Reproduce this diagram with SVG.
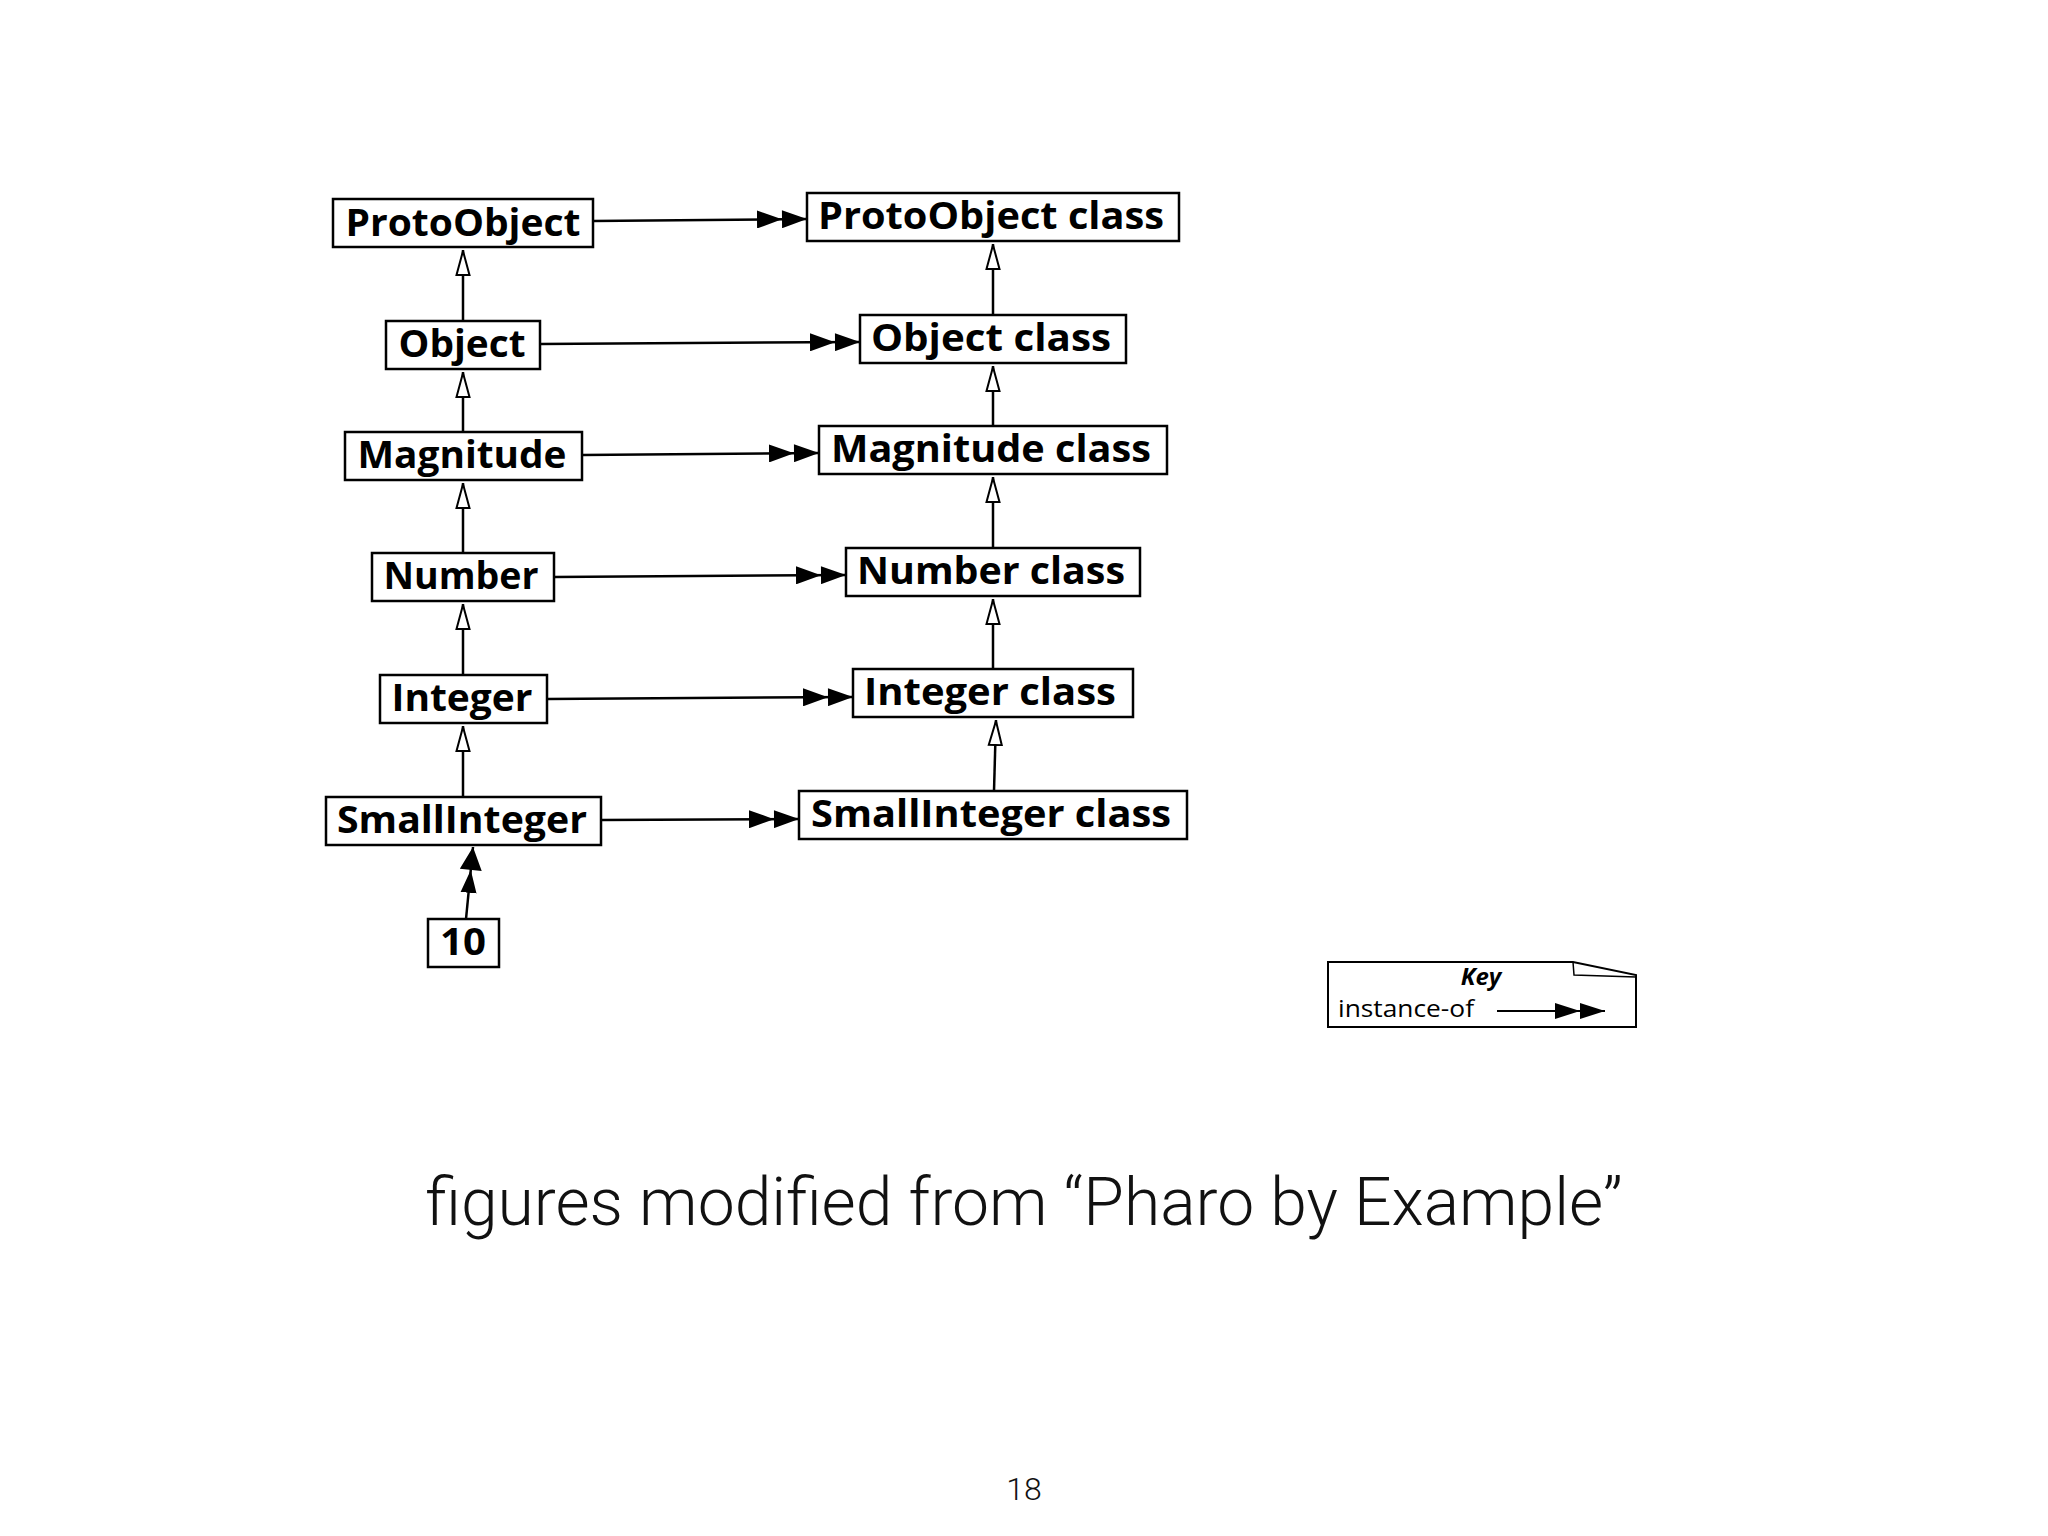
<svg xmlns="http://www.w3.org/2000/svg" width="2048" height="1536" viewBox="0 0 2048 1536">
<style>
.box{fill:#fff;stroke:#000;stroke-width:2.5}
.lbl{font-family:"Open Sans","DejaVu Sans",sans-serif;font-weight:bold;font-size:37px;text-anchor:middle}
.c{stroke:#000;stroke-width:2.5;fill:none}
</style>
<defs>
<marker id="inst" markerUnits="userSpaceOnUse" viewBox="0 0 50 18" markerWidth="50" markerHeight="18" refX="50" refY="9" orient="auto">
<path d="M0,0 L25,9 L0,18 Z M25,0 L50,9 L25,18 Z" fill="#000"/>
</marker>
<marker id="inst2" markerUnits="userSpaceOnUse" viewBox="0 0 46 22" markerWidth="46" markerHeight="22" refX="46" refY="11" orient="auto">
<path d="M0,3 L23,11 L0,19 Z M23,0 L46,11 L23,22 Z" fill="#000"/>
</marker>
<marker id="instk" markerUnits="userSpaceOnUse" viewBox="0 0 50 18" markerWidth="50" markerHeight="18" refX="50" refY="9" orient="auto">
<path d="M0,1 L25,9 L0,17 Z M25,1 L50,9 L25,17 Z" fill="#000"/>
</marker>
<marker id="inh" markerUnits="userSpaceOnUse" viewBox="0 0 26 16" markerWidth="26" markerHeight="16" refX="26" refY="8" orient="auto">
<path d="M1,1.5 L25,8 L1,14.5 Z" fill="#fff" stroke="#000" stroke-width="2"/>
</marker>
</defs>
<rect width="2048" height="1536" fill="#fff"/>
<g id="connectors" class="c">
<line x1="593" y1="221" x2="807" y2="219" marker-end="url(#inst)"/>
<line x1="540" y1="344" x2="860" y2="342" marker-end="url(#inst)"/>
<line x1="582" y1="455" x2="819" y2="453" marker-end="url(#inst)"/>
<line x1="554" y1="577" x2="846" y2="575" marker-end="url(#inst)"/>
<line x1="547" y1="699" x2="853" y2="697" marker-end="url(#inst)"/>
<line x1="601" y1="820" x2="799" y2="819" marker-end="url(#inst)"/>
<line x1="463" y1="321" x2="463" y2="250" marker-end="url(#inh)"/>
<line x1="463" y1="432" x2="463" y2="372" marker-end="url(#inh)"/>
<line x1="463" y1="553" x2="463" y2="483" marker-end="url(#inh)"/>
<line x1="463" y1="675" x2="463" y2="604" marker-end="url(#inh)"/>
<line x1="463" y1="797" x2="463" y2="726" marker-end="url(#inh)"/>
<line x1="993" y1="315" x2="993" y2="244" marker-end="url(#inh)"/>
<line x1="993" y1="426" x2="993" y2="366" marker-end="url(#inh)"/>
<line x1="993" y1="548" x2="993" y2="477" marker-end="url(#inh)"/>
<line x1="993" y1="669" x2="993" y2="599" marker-end="url(#inh)"/>
<line x1="994" y1="791" x2="996" y2="720" marker-end="url(#inh)"/>
<line x1="466" y1="919" x2="473" y2="847" marker-end="url(#inst2)"/>
</g>
<g id="ProtoObject"><rect class="box" x="333" y="199" width="260" height="48"/><text class="lbl" x="463" y="236" textLength="235" lengthAdjust="spacingAndGlyphs">ProtoObject</text></g>
<g id="ProtoObjectClass"><rect class="box" x="807" y="193" width="372" height="48"/><text class="lbl" x="991" y="229" textLength="346" lengthAdjust="spacingAndGlyphs">ProtoObject class</text></g>
<g id="Object"><rect class="box" x="386" y="321" width="154" height="48"/><text class="lbl" x="462" y="357" textLength="127" lengthAdjust="spacingAndGlyphs">Object</text></g>
<g id="ObjectClass"><rect class="box" x="860" y="315" width="266" height="48"/><text class="lbl" x="991" y="351" textLength="240" lengthAdjust="spacingAndGlyphs">Object class</text></g>
<g id="Magnitude"><rect class="box" x="345" y="432" width="237" height="48"/><text class="lbl" x="462" y="468" textLength="209" lengthAdjust="spacingAndGlyphs">Magnitude</text></g>
<g id="MagnitudeClass"><rect class="box" x="819" y="426" width="348" height="48"/><text class="lbl" x="991" y="462" textLength="320" lengthAdjust="spacingAndGlyphs">Magnitude class</text></g>
<g id="Number"><rect class="box" x="372" y="553" width="182" height="48"/><text class="lbl" x="461" y="589" textLength="155" lengthAdjust="spacingAndGlyphs">Number</text></g>
<g id="NumberClass"><rect class="box" x="846" y="548" width="294" height="48"/><text class="lbl" x="991" y="584" textLength="268" lengthAdjust="spacingAndGlyphs">Number class</text></g>
<g id="Integer"><rect class="box" x="380" y="675" width="167" height="48"/><text class="lbl" x="462" y="711" textLength="141" lengthAdjust="spacingAndGlyphs">Integer</text></g>
<g id="IntegerClass"><rect class="box" x="853" y="669" width="280" height="48"/><text class="lbl" x="990" y="705" textLength="252" lengthAdjust="spacingAndGlyphs">Integer class</text></g>
<g id="SmallInteger"><rect class="box" x="326" y="797" width="275" height="48"/><text class="lbl" x="462" y="833" textLength="250" lengthAdjust="spacingAndGlyphs">SmallInteger</text></g>
<g id="SmallIntegerClass"><rect class="box" x="799" y="791" width="388" height="48"/><text class="lbl" x="991" y="827" textLength="360" lengthAdjust="spacingAndGlyphs">SmallInteger class</text></g>
<g id="ten"><rect class="box" x="428" y="919" width="71" height="48"/><text class="lbl" x="463" y="955" textLength="46" lengthAdjust="spacingAndGlyphs">10</text></g>
<g id="key">
<path d="M1328,962 L1573,962 L1636,975 L1636,1027 L1328,1027 Z" fill="#fff" stroke="#000" stroke-width="2"/>
<path d="M1573,962 L1574,975 L1636,977" fill="none" stroke="#000" stroke-width="1.5"/>
<text x="1481" y="985" font-family="'Open Sans','DejaVu Sans',sans-serif" font-weight="bold" font-style="italic" font-size="24" text-anchor="middle">Key</text>
<text x="1338" y="1017" font-family="'Open Sans','DejaVu Sans',sans-serif" font-size="24" textLength="136" lengthAdjust="spacingAndGlyphs">instance-of</text>
<line x1="1497" y1="1011" x2="1605" y2="1011" stroke="#000" stroke-width="2" marker-end="url(#instk)"/>
</g>
<text x="1024" y="1225" font-family="Roboto,'Liberation Sans',sans-serif" font-weight="300" font-size="66" text-anchor="middle" fill="#111">figures modified from “Pharo by Example”</text>
<text x="1024" y="1500" font-family="Roboto,'Liberation Sans',sans-serif" font-weight="300" font-size="32" text-anchor="middle" fill="#111">18</text>
</svg>
